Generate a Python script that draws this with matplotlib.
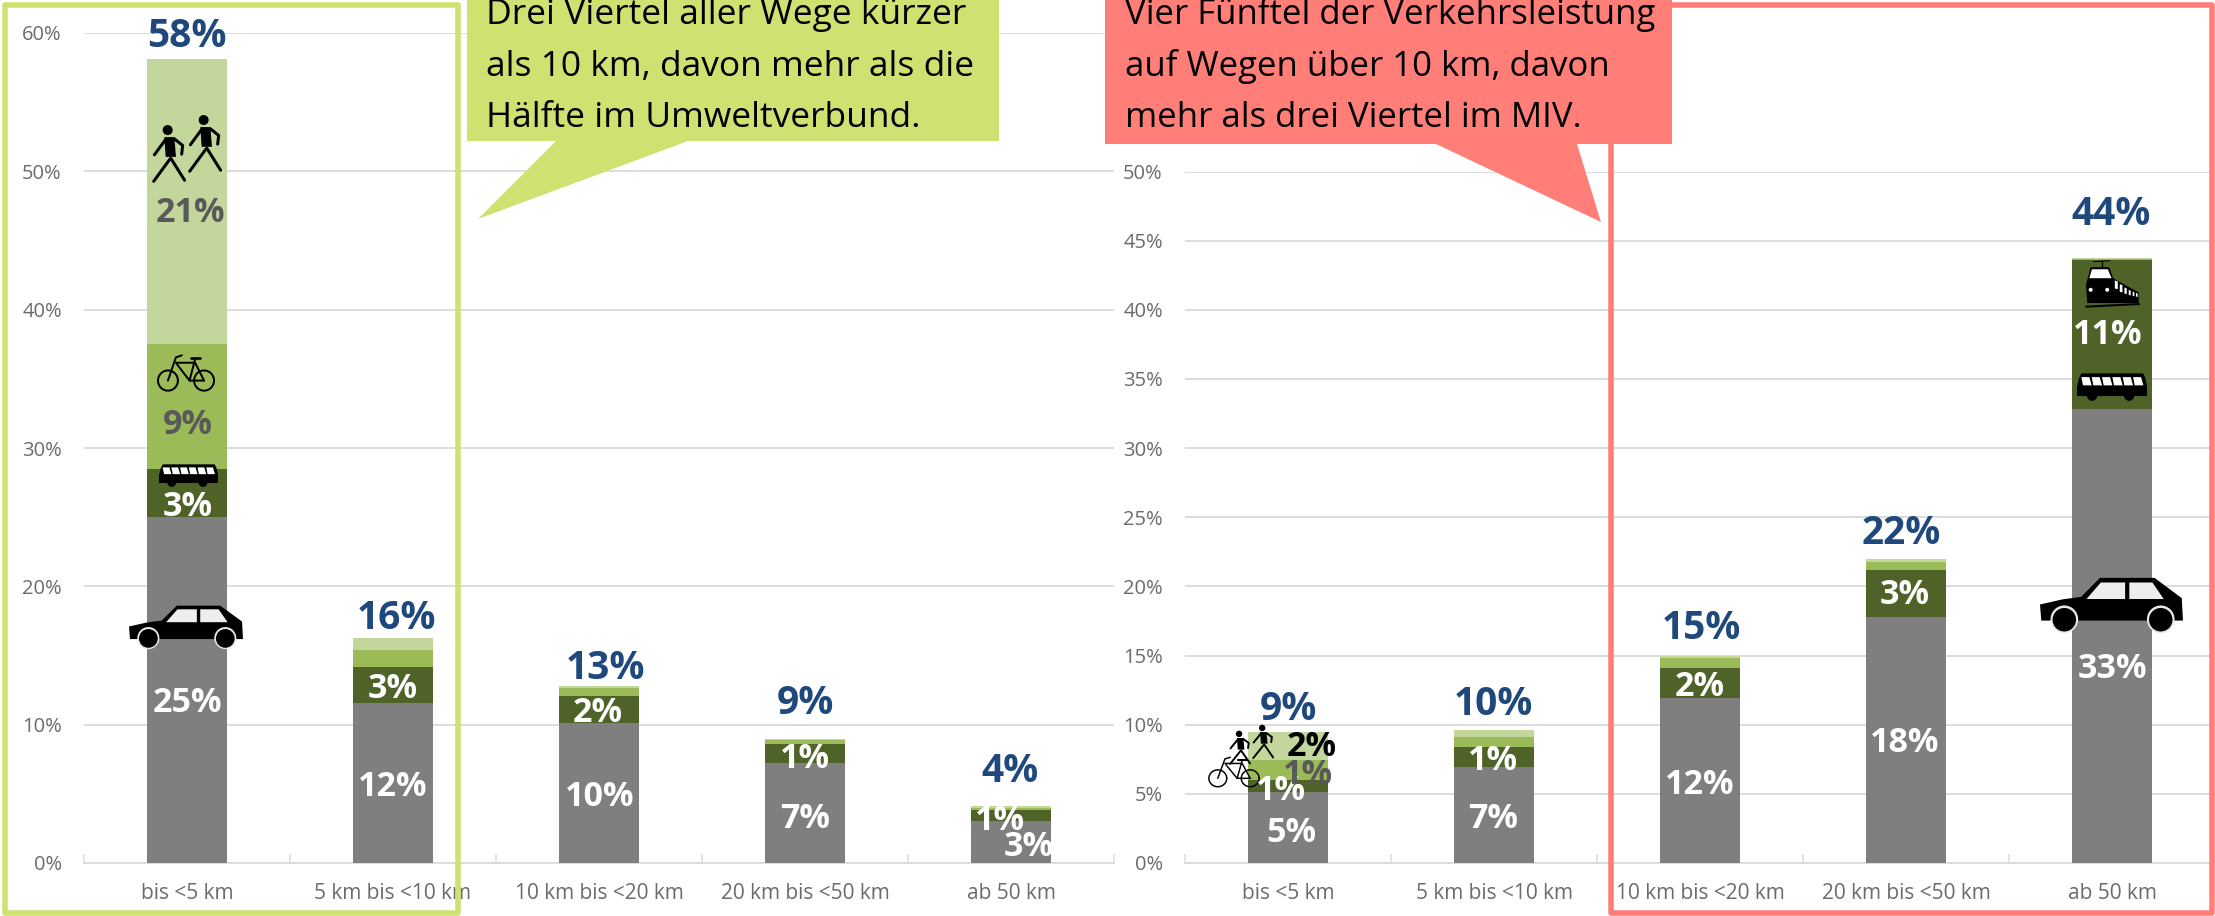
import numpy as np
import matplotlib
matplotlib.use("Agg")
import matplotlib.pyplot as plt
from matplotlib.patches import Polygon, Circle, Rectangle
from matplotlib.ticker import PercentFormatter

W, H = 2215, 916
plt.rcParams['font.family'] = ['Open Sans', 'DejaVu Sans']

categories = ["bis <5 km", "5 km bis <10 km", "10 km bis <20 km", "20 km bis <50 km", "ab 50 km"]

# Wege (share of trips, %)
wege_miv = [25.0, 11.6, 10.15, 7.2, 3.03]
wege_oev = [3.45, 2.6, 1.95, 1.4, 0.8]
wege_rad = [9.05, 1.2, 0.55, 0.3, 0.15]
wege_fuss = [20.6, 0.85, 0.15, 0.07, 0.12]
wege_total = [58, 16, 13, 9, 4]

# Verkehrsleistung (share of distance, %)
leist_miv = [5.15, 6.93, 11.94, 17.8, 32.8]
leist_oev = [0.85, 1.45, 2.16, 3.4, 10.8]
leist_rad = [1.44, 0.72, 0.7, 0.55, 0.1]
leist_fuss = [2.0, 0.5, 0.2, 0.2, 0.05]
leist_total = [9, 10, 15, 22, 44]

# Segment-label placement in figure pixels (manually placed in the original)
wege_pos = {
    'miv': [(187, 701), (393, 786), (600, 795), (805, 817), (1029, 845)],
    'oev': [(188, 506), (393, 688), (598, 711), (805, 757), (1000, 820)],
    'rad': [(188, 424)],
    'fuss': [(190, 211)],
    'total': [(187, 35), (396, 617), (605, 667), (805, 702), (1010, 770)],
}
leist_pos = {
    'miv': [(1291, 832), (1493, 818), (1700, 783), (1905, 742), (2112, 667)],
    'oev': [(1281, 789), (1493, 759), (1700, 685), (1905, 594), (2108, 333)],
    'rad': [(1308, 773)],
    'fuss': [(1312, 745)],
    'total': [(1288, 708), (1493, 703), (1701, 627), (1901, 532), (2111, 213)],
}

C_MIV, C_OEV, C_RAD, C_FUSS = '#7F7F7F', '#4F6228', '#9BBB59', '#C3D69B'
C_BLUE, C_TICK, C_GRID = '#1F497D', '#6B6B6B', '#DCDCDC'
C_LIME, C_RED = '#CFE170', '#FF7F78'

fig = plt.figure(figsize=(W / 100, H / 100), dpi=100, facecolor='white')


def make_axes(x0, x1, ytop, ybot, ymax, step, miv, oev, rad, fuss):
    ax = fig.add_axes([x0 / W, 1 - ybot / H, (x1 - x0) / W, (ybot - ytop) / H])
    x = np.arange(len(categories))
    bottom = np.zeros(len(categories))
    for vals, col in [(miv, C_MIV), (oev, C_OEV), (rad, C_RAD), (fuss, C_FUSS)]:
        ax.bar(x, vals, width=0.39, bottom=bottom, color=col, zorder=3, linewidth=0)
        bottom = bottom + np.array(vals)
    ax.set_xlim(-0.5, len(categories) - 0.5)
    ax.set_ylim(0, ymax)
    ax.set_yticks(np.arange(0, ymax + 0.01, step))
    ax.yaxis.set_major_formatter(PercentFormatter(decimals=0))
    ax.set_xticks(x)
    ax.set_xticklabels(categories)
    ax.set_xticks(np.arange(-0.5, len(categories)), minor=True)
    ax.tick_params(axis='y', length=0, pad=16, labelsize=14.5, labelcolor=C_TICK)
    ax.tick_params(axis='x', which='major', length=0, pad=14.5, labelsize=15, labelcolor=C_TICK)
    ax.tick_params(axis='x', which='minor', direction='in', length=6.5, width=1.1, color=C_GRID)
    ax.grid(axis='y', color=C_GRID, linewidth=1.4, zorder=0)
    ax.set_axisbelow(True)
    for s in ('top', 'right', 'left'):
        ax.spines[s].set_visible(False)
    ax.spines['bottom'].set_color(C_GRID)
    ax.spines['bottom'].set_linewidth(1.4)
    ax.patch.set_visible(False)
    return ax


make_axes(84, 1114, 33, 863, 60, 10, wege_miv, wege_oev, wege_rad, wege_fuss)
make_axes(1185, 2215, 171.5, 863, 50, 5, leist_miv, leist_oev, leist_rad, leist_fuss)

ov = fig.add_axes([0, 0, 1, 1], zorder=10)
ov.set_xlim(0, W)
ov.set_ylim(H, 0)
ov.axis('off')


def mapper(src, dst):
    """Map pictogram design coordinates (src box) to figure pixels (dst box)."""
    sx0, sx1, sy0, sy1 = src
    dx0, dx1, dy0, dy1 = dst
    kx, ky = (dx1 - dx0) / (sx1 - sx0), (dy1 - dy0) / (sy1 - sy0)

    def f(pts):
        p = np.asarray(pts, float)
        return np.column_stack([dx0 + (p[:, 0] - sx0) * kx, dy0 + (p[:, 1] - sy0) * ky])
    return f, kx


def poly(f, pts, color='black', z=6):
    ov.add_patch(Polygon(f(pts), closed=True, facecolor=color, edgecolor='none', zorder=z))


def circ(f, k, c, r, color='black', z=6):
    ov.add_patch(Circle(tuple(f([c])[0]), r * k, facecolor=color, edgecolor='none', zorder=z))


def line(f, k, pts, w, color='black', z=6):
    p = f(pts)
    ov.plot(p[:, 0], p[:, 1], color=color, lw=w * k * 0.72, solid_capstyle='round',
            solid_joinstyle='round', zorder=z)


def car(dst):
    f, k = mapper((27, 368, 495, 625), dst)
    poly(f, [(27, 560), (80, 548), (125, 542), (170, 497), (300, 497), (365, 545), (368, 598),
             (30, 598)])
    poly(f, [(138, 547), (172, 508), (230, 508), (230, 547)], '#EEEEEE', 7)
    poly(f, [(240, 508), (295, 508), (322, 547), (240, 547)], '#EEEEEE', 7)
    for cx in (85, 315):
        circ(f, k, (cx, 595), 33, '#E8E8E8', 7)
        circ(f, k, (cx, 596), 28, 'black', 8)


def bus(dst):
    f, k = mapper((117, 293, 72, 140), dst)
    poly(f, [(128, 73), (283, 73), (289, 85), (293, 105), (293, 128), (117, 128), (117, 105), (122, 85)])
    xs = np.linspace(128, 258, 6)
    for xl in xs:
        poly(f, [(xl, 82), (xl + 20, 82), (xl + 26, 102), (xl + 4, 102)], 'white', 7)
    for cx in (155, 248):
        circ(f, k, (cx, 127), 13, 'black', 7)


def train(dst):
    f, k = mapper((165, 328, 30, 175), dst)
    poly(f, [(182, 52), (238, 52), (250, 85), (262, 92), (327, 128), (327, 160), (172, 160), (168, 105)])
    poly(f, [(178, 85), (186, 58), (234, 58), (245, 85)], 'white', 7)
    for x0, y0, y1, w in [(255, 92, 118, 9), (270, 103, 128, 8), (284, 113, 133, 7),
                          (297, 120, 137, 6), (309, 125, 140, 5), (319, 129, 142, 5)]:
        poly(f, [(x0, y0), (x0 + w, y0 + 3), (x0 + w, y1), (x0, y1 - 2)], 'white', 7)
    for cx in (182, 232):
        circ(f, k, (cx, 120), 6, 'white', 7)
    line(f, k, [(190, 35), (240, 32)], 3)
    line(f, k, [(215, 34), (215, 55)], 4)
    line(f, k, [(168, 171), (328, 163)], 6)


def bike(dst, lw):
    f, k = mapper((470, 645, 1065, 1172), dst)
    th = np.linspace(0, 2 * np.pi, 60)
    for cx in (503, 612):
        line(f, k, np.column_stack([cx + 30 * np.cos(th), 1141 + 30 * np.sin(th)]), lw)
    line(f, k, [(503, 1141), (527, 1072), (545, 1066)], lw)
    line(f, k, [(527, 1088), (585, 1088), (612, 1141)], lw)
    line(f, k, [(530, 1092), (568, 1141), (612, 1141)], lw)
    line(f, k, [(568, 1141), (585, 1078)], lw)
    line(f, k, [(572, 1074), (600, 1074)], lw + 2)


def walker(f, k, dx, dy):
    s = lambda pts: [(x + dx, y + dy) for x, y in pts]
    circ(f, k, (502 + dx, 390 + dy), 15)
    poly(f, s([(492, 411), (522, 411), (527, 470), (496, 470)]))
    line(f, k, s([(496, 418), (462, 464)]), 9)
    line(f, k, s([(522, 416), (547, 436), (544, 462)]), 9)
    line(f, k, s([(510, 475), (460, 543)]), 9)
    line(f, k, s([(512, 475), (553, 540)]), 9)


def walkers(dst):
    f, k = mapper((455, 665, 345, 548), dst)
    walker(f, k, 0, 0)
    walker(f, k, 108, -30)


def lab(pos, val, color, size):
    ov.text(pos[0], pos[1] + 1.5, f"{int(round(val))}%", ha='center', va='center', color=color,
            fontsize=size, fontweight='bold', zorder=9)


SEG, TOT = 24.5, 28
for data, pos, total in [((wege_miv, wege_oev, wege_rad, wege_fuss), wege_pos, wege_total),
                         ((leist_miv, leist_oev, leist_rad, leist_fuss), leist_pos, leist_total)]:
    miv, oev, rad, fuss = data
    for p, v in zip(pos['miv'], miv):
        lab(p, v, 'white', SEG)
    for p, v in zip(pos['oev'], oev):
        lab(p, v, 'white', SEG)
    for p, v in zip(pos['total'], total):
        lab(p, v, C_BLUE, TOT)

lab(wege_pos['rad'][0], wege_rad[0], '#595959', SEG)
lab(wege_pos['fuss'][0], wege_fuss[0], '#595959', SEG)
lab(leist_pos['rad'][0], leist_rad[0], '#595959', SEG)
lab(leist_pos['fuss'][0], leist_fuss[0], 'black', SEG)

walkers((152, 222, 115, 183))
bike((157, 215, 355, 391), 6)
bus((159, 218, 464, 487))
car((129, 243, 605, 648))
walkers((1229, 1274, 725, 765))
bike((1208, 1260, 757, 787), 5)
train((2085, 2139, 260, 308))
bus((2077, 2147, 373, 401))
car((2040, 2183, 577, 632))

# frames
ov.add_patch(Rectangle((5, 5), 453, 908, fill=False, edgecolor=C_LIME, lw=4, zorder=4, joinstyle='round'))
ov.add_patch(Rectangle((1611, 5), 601, 908, fill=False, edgecolor=C_RED, lw=4, zorder=4, joinstyle='round'))

# callouts
ov.add_patch(Polygon([(467, 0), (999, 0), (999, 141), (688, 141), (478, 219), (556, 141), (467, 141)],
                     closed=True, facecolor=C_LIME, edgecolor='none', zorder=5))
ov.add_patch(Polygon([(1105, 0), (1672, 0), (1672, 144), (1577, 144), (1601, 222), (1436, 144), (1105, 144)],
                     closed=True, facecolor=C_RED, edgecolor='none', zorder=5))
for x, fs, lines in [(486, 25.5, ["Drei Viertel aller Wege kürzer", "als 10 km, davon mehr als die", "Hälfte im Umweltverbund."]),
                     (1125, 25, ["Vier Fünftel der Verkehrsleistung", "auf Wegen über 10 km, davon", "mehr als drei Viertel im MIV."])]:
    for y, s in zip((24, 76, 127), lines):
        ov.text(x, y, s, ha='left', va='baseline', color='black', fontsize=fs, zorder=9)

fig.savefig('out.png', dpi=100)
